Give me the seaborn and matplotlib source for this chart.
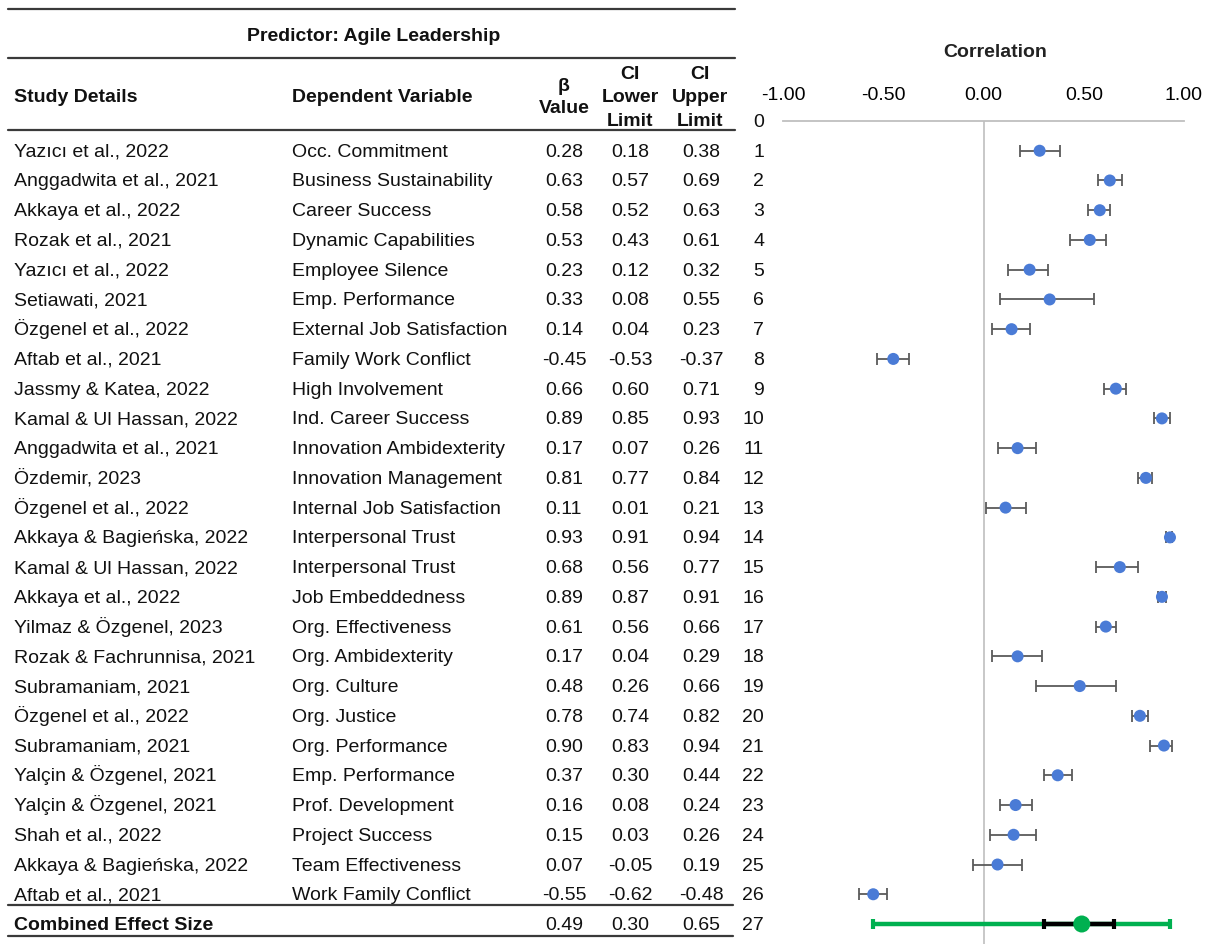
import numpy as np
import pandas as pd
import matplotlib
matplotlib.use('Agg')
import matplotlib.pyplot as plt
import matplotlib.transforms as mtransforms
from matplotlib.lines import Line2D
import seaborn as sns

# ---- data ----
studies = ['Yazıcı et al., 2022', 'Anggadwita et al., 2021', 'Akkaya et al., 2022',
           'Rozak et al., 2021', 'Yazıcı et al., 2022', 'Setiawati, 2021',
           'Özgenel et al., 2022', 'Aftab et al., 2021', 'Jassmy & Katea, 2022',
           'Kamal & Ul Hassan, 2022', 'Anggadwita et al., 2021', 'Özdemir, 2023',
           'Özgenel et al., 2022', 'Akkaya & Bagieńska, 2022', 'Kamal & Ul Hassan, 2022',
           'Akkaya et al., 2022', 'Yilmaz & Özgenel, 2023', 'Rozak & Fachrunnisa, 2021',
           'Subramaniam, 2021', 'Özgenel et al., 2022', 'Subramaniam, 2021',
           'Yalçin & Özgenel, 2021', 'Yalçin & Özgenel, 2021', 'Shah et al., 2022',
           'Akkaya & Bagieńska, 2022', 'Aftab et al., 2021']
dep_vars = ['Occ. Commitment', 'Business Sustainability', 'Career Success',
            'Dynamic Capabilities', 'Employee Silence', 'Emp. Performance',
            'External Job Satisfaction', 'Family Work Conflict', 'High Involvement',
            'Ind. Career Success', 'Innovation Ambidexterity', 'Innovation Management',
            'Internal Job Satisfaction', 'Interpersonal Trust', 'Interpersonal Trust',
            'Job Embeddedness', 'Org. Effectiveness', 'Org. Ambidexterity',
            'Org. Culture', 'Org. Justice', 'Org. Performance', 'Emp. Performance',
            'Prof. Development', 'Project Success', 'Team Effectiveness',
            'Work Family Conflict']
beta = [0.28, 0.63, 0.58, 0.53, 0.23, 0.33, 0.14, -0.45, 0.66, 0.89, 0.17, 0.81, 0.11,
        0.93, 0.68, 0.89, 0.61, 0.17, 0.48, 0.78, 0.90, 0.37, 0.16, 0.15, 0.07, -0.55]
ci_lower = [0.18, 0.57, 0.52, 0.43, 0.12, 0.08, 0.04, -0.53, 0.60, 0.85, 0.07, 0.77, 0.01,
            0.91, 0.56, 0.87, 0.56, 0.04, 0.26, 0.74, 0.83, 0.30, 0.08, 0.03, -0.05, -0.62]
ci_upper = [0.38, 0.69, 0.63, 0.61, 0.32, 0.55, 0.23, -0.37, 0.71, 0.93, 0.26, 0.84, 0.21,
            0.94, 0.77, 0.91, 0.66, 0.29, 0.66, 0.82, 0.94, 0.44, 0.24, 0.26, 0.19, -0.48]

combined = [0.49, 0.30, 0.65]          # effect, lower, upper
pred_interval = [-0.55, 0.93]          # green line ends
x_ticks = [-1.0, -0.5, 0.0, 0.5, 1.0]

df = pd.DataFrame({'study': studies, 'dv': dep_vars, 'beta': beta,
                   'lo': ci_lower, 'hi': ci_upper})
df['row'] = np.arange(1, len(df) + 1)
comb_row = len(df) + 1

sns.set_theme(style='white')
plt.rcParams['font.family'] = ['Liberation Sans', 'DejaVu Sans']

W, H = 1209, 945
fig = plt.figure(figsize=(W / 100, H / 100), dpi=100)
ax = fig.add_axes([783 / W, 0, 401 / W, 1 - 122 / H])

# study CIs
ax.errorbar(df['beta'], df['row'],
            xerr=[df['beta'] - df['lo'], df['hi'] - df['beta']],
            fmt='none', ecolor='#5a5a5a', elinewidth=1.3, capsize=4, capthick=1.3, zorder=2)
sns.scatterplot(data=df, x='beta', y='row', ax=ax, s=75, color='#4a7bd6',
                edgecolor='none', zorder=3)

# combined effect
m = combined[0]
ax.errorbar([m], [comb_row], xerr=[[m - pred_interval[0]], [pred_interval[1] - m]],
            fmt='none', ecolor='#00b050', elinewidth=3.2, capsize=3.5, capthick=3, zorder=2)
ax.errorbar([m], [comb_row], xerr=[[m - combined[1]], [combined[2] - m]],
            fmt='none', ecolor='black', elinewidth=3.2, capsize=3.5, capthick=3, zorder=3)
ax.scatter([m], [comb_row], s=150, color='#00b050', zorder=4, edgecolors='none')

ax.axvline(0, color='#bfbfbf', lw=1.2, zorder=1)
ax.set_xlim(-1, 1)
ax.set_ylim((H - 122) / ((925 - 122) / 27), 0)
ax.set_xlabel('')
ax.set_ylabel('')
ax.xaxis.tick_top()
ax.set_xticks(x_ticks)
ax.set_xticklabels(['%.2f' % t for t in x_ticks])
ax.set_yticks([])
ax.tick_params(axis='x', length=0, pad=13, labelsize=14, colors='black')
for s in ['left', 'right', 'bottom']:
    ax.spines[s].set_visible(False)
ax.spines['top'].set_color('#bfbfbf')
ax.spines['top'].set_linewidth(1.3)
ax.set_facecolor('none')

fig.text(995 / W, 1 - 57 / H, 'Correlation', ha='center', va='baseline',
         fontsize=14, fontweight='bold', color='#222222')

# ---- table on the left ----
# x in figure fraction, y in row units, baseline shifted down so caps centre on the row
tr = mtransforms.blended_transform_factory(fig.transFigure, ax.transData)
tr = mtransforms.offset_copy(tr, fig=fig, y=-5, units='dots')
fs = 14
kw = dict(transform=tr, va='baseline', fontsize=fs, color='#111111')
for _, r in df.iterrows():
    y = r['row']
    fig.text(14 / W, y, r['study'], ha='left', **kw)
    fig.text(292 / W, y, r['dv'], ha='left', **kw)
    fig.text(564 / W, y, '%.2f' % r['beta'], ha='center', **kw)
    fig.text(630 / W, y, '%.2f' % r['lo'], ha='center', **kw)
    fig.text(701 / W, y, '%.2f' % r['hi'], ha='center', **kw)

fig.text(14 / W, comb_row, 'Combined Effect Size', ha='left', fontweight='bold', **kw)
for xp, v in zip([564, 630, 701], combined):
    fig.text(xp / W, comb_row, '%.2f' % v, ha='center', **kw)

# row numbers beside the forest plot
for i in range(0, comb_row + 1):
    fig.text(764 / W, i, str(i), ha='right', **kw)

# headers (y = text centre in pixels)
def htext(x, y, s, ha='center'):
    fig.text(x / W, 1 - (y + 6) / H, s, ha=ha, va='baseline',
             fontsize=14, fontweight='bold', color='#111111')

htext(374, 35, 'Predictor: Agile Leadership')
htext(14, 96, 'Study Details', ha='left')
htext(292, 96, 'Dependent Variable', ha='left')
htext(564, 85, 'β')
htext(564, 107, 'Value')
htext(630, 73, 'CI')
htext(630, 96, 'Lower')
htext(630, 120, 'Limit')
htext(700, 73, 'CI')
htext(700, 96, 'Upper')
htext(700, 120, 'Limit')

for y, x0, x1 in [(10, 8, 735), (59, 8, 735), (131, 8, 735), (906, 8, 733), (937, 8, 733)]:
    fig.add_artist(Line2D([x0 / W, x1 / W], [1 - y / H, 1 - y / H],
                          transform=fig.transFigure, color='#3a3a3a', lw=1.6))

fig.savefig('out.png', dpi=100)
